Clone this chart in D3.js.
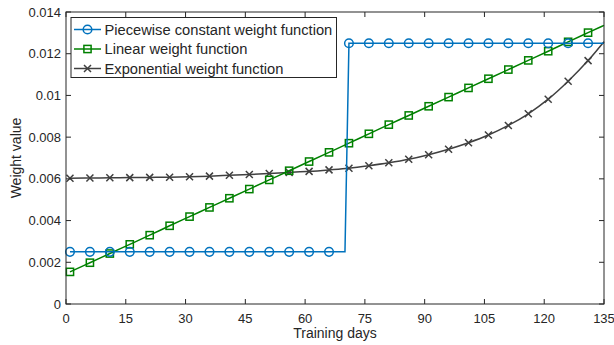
<!DOCTYPE html>
<meta charset="utf-8">
<html>
<head>
  <title>Weight functions</title>
  <style type="text/css">
    body{margin:0; background:#fff;}
    svg{display:block; font-family:"Liberation Sans", Arial, sans-serif;}
  </style>
</head>
<body>
  <script src="https://cdn.jsdelivr.net/npm/d3@7"></script>
  <script>
    // days where values were read (markers every 5 days, plus the last day)
    var days = [1,6,11,16,21,26,31,36,41,46,51,56,61,66,71,76,81,86,91,96,101,106,111,116,121,126,131,135];

    // piecewise constant: low up to day 70, high from day 71
    var pieceDays   = [1,6,11,16,21,26,31,36,41,46,51,56,61,66,70,71,76,81,86,91,96,101,106,111,116,121,126,131,135];
    var pieceValues = [0.0025,0.0025,0.0025,0.0025,0.0025,0.0025,0.0025,0.0025,0.0025,0.0025,0.0025,0.0025,0.0025,0.0025,0.0025,
                       0.0125,0.0125,0.0125,0.0125,0.0125,0.0125,0.0125,0.0125,0.0125,0.0125,0.0125,0.0125,0.0125,0.0125];

    var linearValues = [0.00154,0.00198,0.00242,0.00286,0.00330,0.00375,0.00419,0.00463,0.00507,0.00551,
                        0.00595,0.00639,0.00683,0.00727,0.00771,0.00816,0.00860,0.00904,0.00948,0.00992,
                        0.01036,0.01080,0.01124,0.01168,0.01212,0.01257,0.01301,0.01336];

    var expValues = [0.00603,0.00604,0.00605,0.00606,0.00607,0.00608,0.00610,0.00613,0.00617,0.00621,
                     0.00626,0.00631,0.00636,0.00643,0.00651,0.00663,0.00677,0.00694,0.00716,0.00742,
                     0.00773,0.00810,0.00856,0.00912,0.00982,0.01068,0.01167,0.01258];

    var xTicks = [0,15,30,45,60,75,90,105,120,135];
    var yTicks = [0,0.002,0.004,0.006,0.008,0.01,0.012,0.014];
    var yTickLabels = ['0','0.002','0.004','0.006','0.008','0.01','0.012','0.014'];

    var seriesNames = ['Piecewise constant weight function','Linear weight function','Exponential weight function'];
    var colors = ['#0072bd','#008000','#404040'];

    var width = 614,
        height = 345,
        margin = {top: 12, right: 10, bottom: 41, left: 66};

    var axisColor = '#262626';

    var svg = d3.select('body')
        .append('svg')
        .attr('width', width)
        .attr('height', height);

    var x = d3.scaleLinear().domain([0,135]).range([margin.left, width - margin.right]);
    var y = d3.scaleLinear().domain([0,0.014]).range([height - margin.bottom, margin.top]);

    function isMarker(d){ return (d - 1) % 5 === 0; }

    var series = [
      {name: seriesNames[0], color: colors[0], marker: 'circle', pts: pieceDays.map(function(d,i){return [d, pieceValues[i]]})},
      {name: seriesNames[1], color: colors[1], marker: 'square', pts: days.map(function(d,i){return [d, linearValues[i]]})},
      {name: seriesNames[2], color: colors[2], marker: 'cross',  pts: days.map(function(d,i){return [d, expValues[i]]})}
    ];

    var line = d3.line()
      .x(function(p){return x(p[0])})
      .y(function(p){return y(p[1])});

    svg.append('clipPath').attr('id','clip')
      .append('rect')
      .attr('x', margin.left).attr('y', margin.top - 2)
      .attr('width', width - margin.left - margin.right + 2)
      .attr('height', height - margin.top - margin.bottom + 4);

    var plot = svg.append('g');

    function drawMarker(g, type, color, cx, cy){
      if(type == 'circle'){
        g.append('circle').attr('cx', cx).attr('cy', cy).attr('r', 4.3)
          .attr('fill','none').attr('stroke', color).attr('stroke-width', 1.5);
      } else if(type == 'square'){
        g.append('rect').attr('x', cx - 3.6).attr('y', cy - 3.6).attr('width', 7.2).attr('height', 7.2)
          .attr('fill','none').attr('stroke', color).attr('stroke-width', 1.5);
      } else {
        var s = 3.5;
        g.append('path')
          .attr('d', 'M'+(cx-s)+','+(cy-s)+'L'+(cx+s)+','+(cy+s)+'M'+(cx-s)+','+(cy+s)+'L'+(cx+s)+','+(cy-s))
          .attr('stroke', color).attr('stroke-width', 1.5).attr('fill','none');
      }
    }

    // draw in reverse so the blue series sits on top
    series.slice().reverse().forEach(function(s){
      var curve = s.marker == 'circle' ? d3.curveLinear : d3.curveMonotoneX;
      plot.append('path')
        .datum(s.pts)
        .attr('clip-path','url(#clip)')
        .attr('d', line.curve(curve))
        .attr('fill','none')
        .attr('stroke', s.color)
        .attr('stroke-width', 1.5);
      var mg = plot.append('g');
      s.pts.filter(function(p){return isMarker(p[0])}).forEach(function(p){
        drawMarker(mg, s.marker, s.color, x(p[0]), y(p[1]));
      });
    });

    // axes (box with inward ticks)
    var x0 = margin.left, x1 = width - margin.right, y0 = height - margin.bottom, y1 = margin.top;
    var axes = svg.append('g').attr('stroke', axisColor).attr('stroke-width', 1).attr('fill','none');
    axes.append('rect').attr('x', x0).attr('y', y1).attr('width', x1 - x0).attr('height', y0 - y1);

    var tl = 5;
    xTicks.forEach(function(t){
      axes.append('line').attr('x1', x(t)).attr('x2', x(t)).attr('y1', y0).attr('y2', y0 - tl);
      axes.append('line').attr('x1', x(t)).attr('x2', x(t)).attr('y1', y1).attr('y2', y1 + tl);
    });
    yTicks.forEach(function(t){
      axes.append('line').attr('x1', x0).attr('x2', x0 + tl).attr('y1', y(t)).attr('y2', y(t));
      axes.append('line').attr('x1', x1).attr('x2', x1 - tl).attr('y1', y(t)).attr('y2', y(t));
    });

    var labels = svg.append('g').attr('fill', axisColor).style('font-size','13px');
    labels.selectAll('.xt').data(xTicks).enter().append('text')
      .attr('x', function(d){return x(d)})
      .attr('y', y0 + 19)
      .attr('text-anchor','middle')
      .text(function(d){return d});
    labels.selectAll('.yt').data(yTicks).enter().append('text')
      .attr('x', x0 - 5)
      .attr('y', function(d){return y(d) + 4.5})
      .attr('text-anchor','end')
      .text(function(d,i){return yTickLabels[i]});

    labels.append('text')
      .attr('x', (x0 + x1) / 2)
      .attr('y', height - 7)
      .attr('text-anchor','middle')
      .style('font-size','14px')
      .text('Training days');
    labels.append('text')
      .attr('transform','translate(21,' + ((y0 + y1) / 2) + ') rotate(-90)')
      .attr('text-anchor','middle')
      .style('font-size','14px')
      .text('Weight value');

    // legend
    var lg = svg.append('g');
    lg.append('rect')
      .attr('x', 71).attr('y', 17.5).attr('width', 265.5).attr('height', 60)
      .attr('fill','#fff').attr('stroke', axisColor).attr('stroke-width', 1);
    series.forEach(function(s, i){
      var ly = 29.5 + i * 19.5;
      lg.append('line').attr('x1', 74).attr('x2', 101).attr('y1', ly).attr('y2', ly)
        .attr('stroke', s.color).attr('stroke-width', 1.5);
      drawMarker(lg, s.marker, s.color, 87.5, ly);
      lg.append('text').attr('x', 104.5).attr('y', ly + 5.2)
        .attr('fill', axisColor).style('font-size','14.7px')
        .text(s.name);
    });
  </script>
</body>
</html>
